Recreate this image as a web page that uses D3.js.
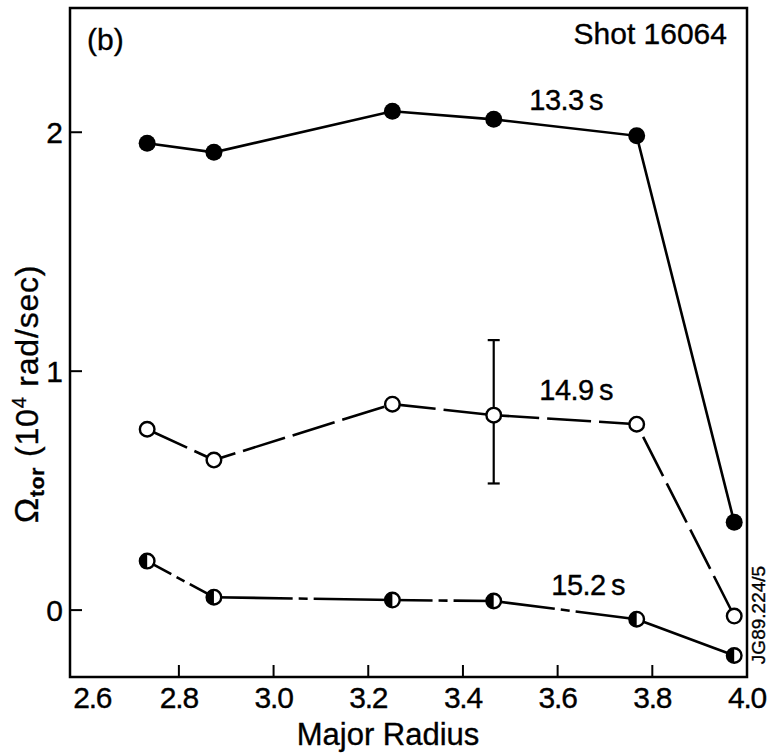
<!DOCTYPE html>
<html lang="en">
<head>
    <meta charset="UTF-8">
    <title>Shot 16064 - toroidal rotation</title>
    <script src="https://d3js.org/d3.v7.min.js"></script>
    <style>
        body { margin: 0; background: #fff; }
        svg { display: block; font-family: "Liberation Sans", Arial, sans-serif; }
        text { stroke: #000; stroke-width: 0.35; }
    </style>
</head>
<body>
    <script>
        // data
        let radius = [2.733, 2.874, 3.251, 3.465, 3.767, 3.973];
        let omega133 = [1.954, 1.916, 2.088, 2.054, 1.985, 0.368];
        let omega149 = [0.757, 0.628, 0.862, 0.816, 0.778, -0.025];
        let omega152 = [0.205, 0.054, 0.042, 0.038, -0.038, -0.19];
        let errIndex = 3;            // point on the 14.9 s curve with an error bar
        let errRange = [0.53, 1.13];
        let xTicks = [2.8, 3.0, 3.2, 3.4, 3.6, 3.8];
        let xLabels = [2.6, 2.8, 3.0, 3.2, 3.4, 3.6, 3.8, 4.0];
        let yTicks = [0, 1, 2];

        let W = 768, H = 753;
        let pLeft = 70, pRight = 747, pTop = 8, pBottom = 677;

        let svg = d3.select("body").append("svg")
                    .attr("width", W)
                    .attr("height", H);

        let x = d3.scaleLinear().domain([2.57, 4.0]).range([pLeft, pRight]);
        let y = d3.scaleLinear().domain([-0.28, 2.52]).range([pBottom, pTop]);

        /* ---------- frame and ticks ---------- */
        svg.append("rect")
           .attr("x", pLeft).attr("y", pTop)
           .attr("width", pRight - pLeft).attr("height", pBottom - pTop)
           .attr("fill", "none").attr("stroke", "#000").attr("stroke-width", 2.5);

        svg.selectAll(".xt").data(xTicks).enter().append("line")
           .attr("x1", d => x(d)).attr("x2", d => x(d))
           .attr("y1", pBottom).attr("y2", pBottom - 12)
           .attr("stroke", "#000").attr("stroke-width", 2);

        svg.selectAll(".yt").data(yTicks).enter().append("line")
           .attr("x1", pLeft).attr("x2", pLeft + 12)
           .attr("y1", d => y(d)).attr("y2", d => y(d))
           .attr("stroke", "#000").attr("stroke-width", 2);

        svg.selectAll(".xl").data(xLabels).enter().append("text")
           .attr("x", d => d === 2.6 ? x(d) + 8 : x(d))
           .attr("y", 708)
           .attr("text-anchor", "middle")
           .attr("font-size", 30)
           .attr("letter-spacing", -1.2)
           .text(d => d.toFixed(1));

        svg.selectAll(".yl").data(yTicks).enter().append("text")
           .attr("x", 63)
           .attr("y", d => y(d) + 11)
           .attr("text-anchor", "end")
           .attr("font-size", 30)
           .text(d => d);

        svg.append("text")
           .attr("x", 388).attr("y", 745)
           .attr("text-anchor", "middle")
           .attr("font-size", 31)
           .text("Major Radius");

        let yl = svg.append("text")
           .attr("transform", "translate(38,394) rotate(-90)")
           .attr("text-anchor", "middle")
           .attr("font-size", 32)
           .attr("letter-spacing", 0.8);
        yl.append("tspan").attr("font-size", 34).text("Ω");
        yl.append("tspan").attr("font-size", 21).attr("font-weight", "bold").attr("dy", 6).text("tor");
        yl.append("tspan").attr("dy", -6).text(" (10");
        yl.append("tspan").attr("font-size", 20).attr("dy", -12).text("4");
        yl.append("tspan").attr("dy", 12).text(" rad/sec)");

        svg.append("text")
           .attr("x", 87).attr("y", 50)
           .attr("font-size", 30)
           .text("(b)");

        svg.append("text")
           .attr("x", 727).attr("y", 44)
           .attr("text-anchor", "end")
           .attr("font-size", 30)
           .text("Shot 16064");

        svg.append("text")
           .attr("transform", "translate(765,615) rotate(-90)")
           .attr("text-anchor", "middle")
           .attr("font-size", 19)
           .text("JG89.224/5");

        /* ---------- curves ---------- */
        let line = d3.line().x(d => x(d[0])).y(d => y(d[1]));
        let pts = vals => radius.map((r, i) => [r, vals[i]]);

        // 13.3 s solid
        svg.append("path").datum(pts(omega133))
           .attr("d", line).attr("fill", "none")
           .attr("stroke", "#000").attr("stroke-width", 2.6);

        // 14.9 s long dashes
        svg.append("path").datum(pts(omega149))
           .attr("d", line).attr("fill", "none")
           .attr("stroke", "#000").attr("stroke-width", 2.6)
           .attr("stroke-dasharray", "44,8");

        // 15.2 s: each segment solid with a short dash in the middle, last one solid
        let p152 = pts(omega152);
        d3.pairs(p152).forEach((pr, i) => {
            let x1 = x(pr[0][0]), y1 = y(pr[0][1]), x2 = x(pr[1][0]), y2 = y(pr[1][1]);
            let L = Math.hypot(x2 - x1, y2 - y1);
            let seg = svg.append("line")
               .attr("x1", x1).attr("y1", y1).attr("x2", x2).attr("y2", y2)
               .attr("stroke", "#000").attr("stroke-width", 2.6);
            if (i < p152.length - 2) {
                let g = 6, d = 9, a = (L - 2 * g - d) / 2;
                seg.attr("stroke-dasharray", [a, g, d, g, a + 50].join(","));
            }
        });

        // error bar
        let ex = x(radius[errIndex]);
        svg.append("line")
           .attr("x1", ex).attr("x2", ex)
           .attr("y1", y(errRange[0])).attr("y2", y(errRange[1]))
           .attr("stroke", "#000").attr("stroke-width", 2.2);
        errRange.forEach(v => {
            svg.append("line")
               .attr("x1", ex - 6).attr("x2", ex + 6)
               .attr("y1", y(v)).attr("y2", y(v))
               .attr("stroke", "#000").attr("stroke-width", 2.2);
        });

        /* ---------- markers ---------- */
        svg.selectAll(".m133").data(pts(omega133)).enter().append("circle")
           .attr("cx", d => x(d[0])).attr("cy", d => y(d[1]))
           .attr("r", 8.5).attr("fill", "#000");

        svg.selectAll(".m149").data(pts(omega149)).enter().append("circle")
           .attr("cx", d => x(d[0])).attr("cy", d => y(d[1]))
           .attr("r", 7.3).attr("fill", "#fff")
           .attr("stroke", "#000").attr("stroke-width", 2.4);

        let g152 = svg.selectAll(".m152").data(p152).enter().append("g")
           .attr("transform", d => `translate(${x(d[0])},${y(d[1])})`);
        g152.append("circle").attr("r", 7.3).attr("fill", "#fff")
            .attr("stroke", "#000").attr("stroke-width", 2.4);
        g152.append("path").attr("d", "M0,-7.3 A7.3,7.3 0 0,0 0,7.3 Z").attr("fill", "#000");

        /* ---------- curve labels ---------- */
        let labels = [["13.3\u2009s", 603, 110], ["14.9\u2009s", 613, 400], ["15.2\u2009s", 625, 595]];
        svg.selectAll(".cl").data(labels).enter().append("text")
           .attr("x", d => d[1]).attr("y", d => d[2])
           .attr("text-anchor", "end")
           .attr("font-size", 29)
           .attr("letter-spacing", -0.5)
           .text(d => d[0]);
    </script>
</body>
</html>
